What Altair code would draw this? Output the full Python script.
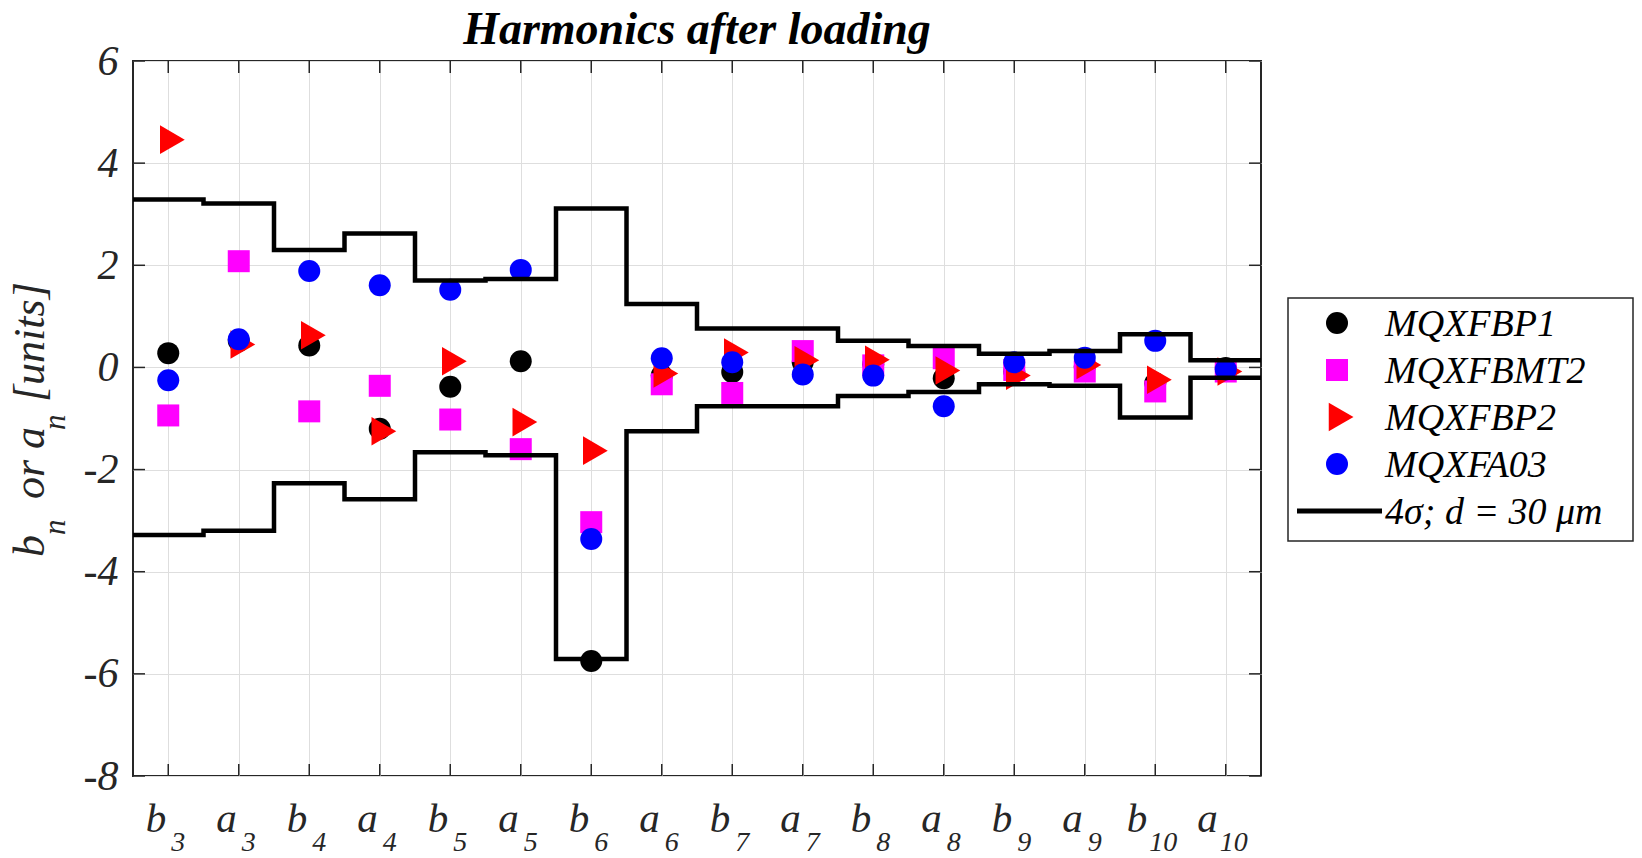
import altair as alt
import pandas as pd

# ---------------- data ----------------
letters = ["b", "a"] * 8
orders = ["3", "3", "4", "4", "5", "5", "6", "6", "7", "7", "8", "8", "9", "9", "10", "10"]
positions = list(range(1, 17))

series_names = ["MQXFBP1", "MQXFBMT2", "MQXFBP2", "MQXFA03"]
series_colors = ["#000000", "#ff00ff", "#ff0000", "#0000ff"]
TRI = "M-0.75,-1.3L1.5,0L-0.75,1.3Z"
series_shapes = ["circle", "square", TRI, "circle"]

mqxfbp1 = [0.28, 0.52, 0.43, -1.20, -0.38, 0.12, -5.75, -0.16, -0.09, 0.10, 0.06, -0.21, -0.08, 0.02, -0.31, -0.01]
mqxfbmt2 = [-0.94, 2.08, -0.86, -0.36, -1.02, -1.60, -3.03, -0.33, -0.50, 0.32, 0.04, 0.18, -0.05, -0.08, -0.47, -0.08]
mqxfbp2 = [4.46, 0.45, 0.63, -1.25, 0.12, -1.07, -1.63, -0.12, 0.29, 0.14, 0.15, -0.06, -0.16, 0.05, -0.24, -0.08]
mqxfa03 = [-0.25, 0.55, 1.89, 1.61, 1.52, 1.91, -3.36, 0.18, 0.10, -0.14, -0.16, -0.76, 0.10, 0.19, 0.52, -0.04]

sigma_upper = [3.29, 3.21, 2.30, 2.62, 1.70, 1.73, 3.11, 1.24, 0.76, 0.76, 0.52, 0.42, 0.27, 0.32, 0.65, 0.14]
sigma_lower = [-3.28, -3.20, -2.27, -2.58, -1.66, -1.72, -5.71, -1.25, -0.76, -0.76, -0.56, -0.48, -0.33, -0.36, -0.98, -0.20]

y_ticks = [-8, -6, -4, -2, 0, 2, 4, 6]
line_label = "4σ; d = 30 μm"
title_text = "Harmonics after loading"

# ---------------- layout / style ----------------
W, H = 1128, 715
FONT = "Liberation Serif"
AX = "#262626"
GRID = "#dedede"

series_values = [mqxfbp1, mqxfbmt2, mqxfbp2, mqxfa03]
rows = []
for k, (name, vals) in enumerate(zip(series_names, series_values)):
    for p, v in zip(positions, vals):
        rows.append({"series": name, "k": k, "pos": p, "value": v})
pts = pd.DataFrame(rows)

step_rows = []
for bound, vals in (("upper", sigma_upper), ("lower", sigma_lower)):
    xs = [p - 0.5 for p in positions] + [positions[-1] + 0.5]
    vs = vals + [vals[-1]]
    for x, v in zip(xs, vs):
        step_rows.append({"bound": bound, "x": x, "v": v})
steps = pd.DataFrame(step_rows)

lab = pd.DataFrame({"pos": positions, "letter": letters, "order": orders})
lab["two"] = lab["order"].str.len() > 1

xscale = alt.Scale(domain=[0.5, 16.5], nice=False, zero=False)
yscale = alt.Scale(domain=[-8, 6], nice=False, zero=False)

xaxis = alt.Axis(values=positions, grid=True, gridColor=GRID, gridWidth=1, labels=False,
                 ticks=False, domain=False, title=None)
yaxis = alt.Axis(values=y_ticks, grid=True, gridColor=GRID, gridWidth=1, labels=True,
                 labelExpr="'' + datum.value", labelFont=FONT, labelFontSize=42,
                 labelFontStyle="italic", labelColor=AX, labelPadding=15, labelFlush=False,
                 ticks=False, domain=False, title=None)

X = alt.X("pos:Q", scale=xscale, axis=xaxis)

points = alt.Chart(pts).mark_point(filled=True, size=484, opacity=1, strokeWidth=0).encode(
    x=X,
    y=alt.Y("value:Q", scale=yscale, axis=yaxis),
    color=alt.Color("series:N", scale=alt.Scale(domain=series_names, range=series_colors), legend=None),
    shape=alt.Shape("series:N", scale=alt.Scale(domain=series_names, range=series_shapes), legend=None),
    order=alt.Order("k:Q"),
)

step_line = alt.Chart(steps).mark_line(interpolate="step-after", color="black", strokeWidth=4.5).encode(
    x=alt.X("x:Q", scale=xscale),
    y=alt.Y("v:Q", scale=yscale),
    detail="bound:N",
    order="x:Q",
)

# inward ticks on all four sides
yt = pd.DataFrame({"v": y_ticks})
xt = pd.DataFrame({"pos": positions})
tick_style = dict(color=AX, strokeWidth=1.5)
lt = alt.Chart(yt).mark_rule(**tick_style).encode(y=alt.Y("v:Q", scale=yscale), x=alt.value(0), x2=alt.value(12))
rt = alt.Chart(yt).mark_rule(**tick_style).encode(y=alt.Y("v:Q", scale=yscale), x=alt.value(W - 12), x2=alt.value(W))
tt = alt.Chart(xt).mark_rule(**tick_style).encode(x=alt.X("pos:Q", scale=xscale), y=alt.value(0), y2=alt.value(12))
bt = alt.Chart(xt).mark_rule(**tick_style).encode(x=alt.X("pos:Q", scale=xscale), y=alt.value(H - 12), y2=alt.value(H))

# x tick labels with subscripts
def xlab(two, main):
    base = alt.Chart(lab).transform_filter(f"datum.two == {'true' if two else 'false'}")
    if main:
        return base.mark_text(font=FONT, fontSize=41, fontStyle="italic", color=AX, align="right",
                              baseline="alphabetic", dx=-8 if two else -2).encode(
            x=alt.X("pos:Q", scale=xscale), y=alt.value(771), text="letter:N")
    return base.mark_text(font=FONT, fontSize=28, fontStyle="italic", color=AX, align="left",
                          baseline="alphabetic", dx=-6 if two else 3).encode(
        x=alt.X("pos:Q", scale=xscale), y=alt.value(790), text="order:N")

xlabels = [xlab(False, True), xlab(True, True), xlab(False, False), xlab(True, False)]

# y title with subscripts (rotated)
def ytxt(t, x, y, size):
    return alt.Chart(pd.DataFrame({"t": [t]})).mark_text(
        font=FONT, fontSize=size, fontStyle="italic", color=AX, angle=270, align="left",
        baseline="alphabetic").encode(x=alt.value(x), y=alt.value(y), text="t:N")

ytitle = [
    ytxt("b", -89, 496, 44),
    ytxt("n", -68, 474, 31),
    ytxt("or a", -89, 438, 44),
    ytxt("n", -68, 369, 31),
    ytxt("[units]", -89, 341, 44),
]

title = alt.Chart(pd.DataFrame({"t": [title_text]})).mark_text(
    font=FONT, fontSize=46, fontStyle="italic", fontWeight="bold", color="black",
    align="center", baseline="alphabetic").encode(x=alt.value(W / 2), y=alt.value(-17), text="t:N")

# manual legend
LX0, LX1, LY0, LY1 = 1155, 1500, 237, 480
legend_box = alt.Chart(pd.DataFrame({"a": [0]})).mark_rect(
    fill="white", stroke=AX, strokeWidth=1.5).encode(
    x=alt.value(LX0), x2=alt.value(LX1), y=alt.value(LY0), y2=alt.value(LY1))

legend_layers = [legend_box]
for i, (name, col, shp) in enumerate(zip(series_names, series_colors, series_shapes)):
    yc = 262 + 47 * i
    d = pd.DataFrame({"series": [name]})
    legend_layers.append(alt.Chart(d).mark_point(filled=True, size=484, opacity=1, strokeWidth=0,
                                                 shape=shp, color=col).encode(
        x=alt.value(1204), y=alt.value(yc)))
    legend_layers.append(alt.Chart(d).mark_text(font=FONT, fontSize=38, fontStyle="italic",
                                                color="black", align="left", baseline="alphabetic").encode(
        x=alt.value(1252), y=alt.value(yc + 13), text="series:N"))
yl = 262 + 47 * 4
legend_layers.append(alt.Chart(pd.DataFrame({"a": [0]})).mark_rule(color="black", strokeWidth=5).encode(
    x=alt.value(1164), x2=alt.value(1249), y=alt.value(yl)))
legend_layers.append(alt.Chart(pd.DataFrame({"t": [line_label]})).mark_text(
    font=FONT, fontSize=38, fontStyle="italic", color="black", align="left", baseline="alphabetic").encode(
    x=alt.value(1252), y=alt.value(yl + 13), text="t:N"))

chart = alt.layer(
    points, step_line, lt, rt, tt, bt, *xlabels, *ytitle, title, *legend_layers
).properties(
    width=W, height=H,
    autosize=alt.AutoSizeParams(type="none"),
    padding={"left": 133, "top": 61, "right": 1642 - 133 - W, "bottom": 858 - 61 - H},
    background="white",
).configure_view(stroke=AX, strokeWidth=2)

chart.save("out.html", embed_options={"renderer": "svg", "actions": False})
